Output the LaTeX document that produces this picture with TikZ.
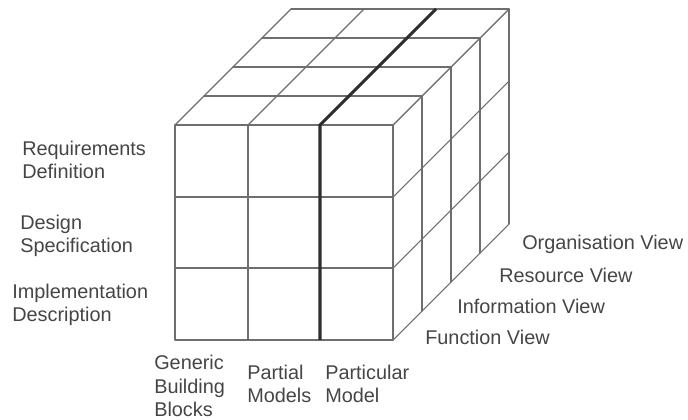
\documentclass[tikz,border=0pt]{standalone}
\usepackage{fontspec}
\setmainfont{Liberation Sans}
\definecolor{gridc}{HTML}{6E6E6E}
\definecolor{thickc}{HTML}{2E2E2E}
\definecolor{txtc}{HTML}{454545}
\begin{document}
\begin{tikzpicture}[x=0.75pt,y=-0.75pt,
  gridline/.style={draw=gridc,line width=0.8pt,line cap=round},
  thickline/.style={draw=thickc,line width=2.3pt},
  lbl/.style={anchor=west,align=left,inner sep=0pt,text=txtc,
    font=\fontsize{14.9pt}{17.6pt}\selectfont}]
\useasboundingbox (0,0) rectangle (688,420);
% front face grid
\foreach \x in {175,248,320,393} \draw[gridline] (\x,125) -- (\x,340);
\foreach \y in {125,197,268,340} \draw[gridline] (175,\y) -- (393,\y);
% top face and right face layers
\foreach \k in {0,1,2,3,4} {
  \draw[gridline] ({175+29*\k},{125-29*\k}) -- ({393+29*\k},{125-29*\k});
  \draw[gridline] ({393+29*\k},{125-29*\k}) -- ({393+29*\k},{340-29*\k});
}
\foreach \x in {175,248,320,393} \draw[gridline] (\x,125) -- ({\x+116},9);
\foreach \y in {125,197,268,340} \draw[gridline] (393,\y) -- (509,{\y-116});
% particular model emphasis
\coordinate (pmtop) at (320,125);
\coordinate (pmbot) at (320,340);
\coordinate (pmback) at (436,9);
\draw[thickline] (pmbot) -- (pmtop) -- (pmback);
% labels
\node[lbl] (req) at (22,160) {Requirements\\Definition};
\node[lbl] (des) at (20,236) {Design\\Specification};
\node[lbl] (imp) at (12,305) {Implementation\\Description};
\node[lbl] (gen) at (154,386) {Generic\\Building\\Blocks};
\node[lbl] (par) at (247,384) {Partial\\Models};
\node[lbl] (pm) at (325,384) {Particular\\Model};
\node[lbl] (org) at (522,244) {Organisation View};
\node[lbl] (res) at (499,275) {Resource View};
\node[lbl] (inf) at (457,306) {Information View};
\node[lbl] (fun) at (425,337) {Function View};
\end{tikzpicture}
\end{document}
